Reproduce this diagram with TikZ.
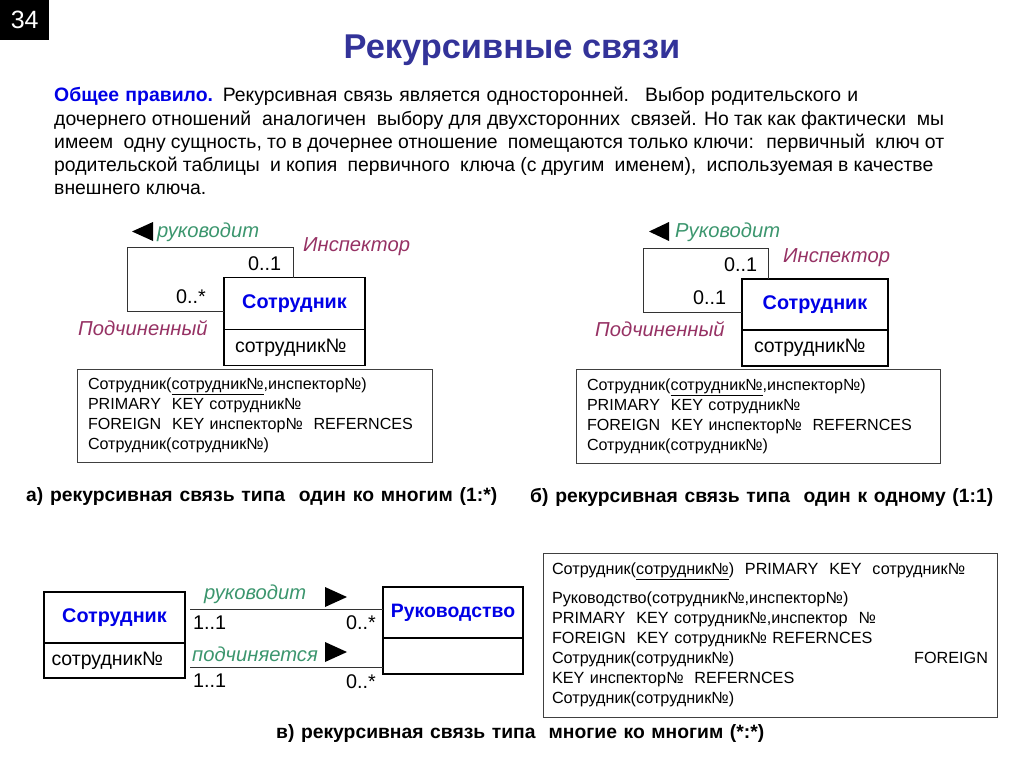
\documentclass[tikz,border=0pt]{standalone}
\usepackage{fontspec}
\setmainfont{Liberation Sans}
\definecolor{titleblue}{RGB}{51,51,153}
\definecolor{entblue}{RGB}{0,0,230}
\definecolor{relgreen}{RGB}{60,150,110}
\definecolor{rolepurple}{RGB}{150,50,100}
\newcommand{\spreadline}[2]{\makebox[#1pt][s]{#2}}
\tikzset{
  para/.style={anchor=west, inner sep=0pt, font=\fontsize{19.4}{23}\selectfont},
  capt/.style={anchor=west, inner sep=0pt, font=\bfseries\fontsize{19.3}{23}\selectfont},
  enthead/.style={draw, line width=1.6pt, inner sep=0pt, outer sep=0pt, font=\bfseries\fontsize{19.8}{22}\selectfont, text=entblue},
  entattr/.style={draw, line width=1.6pt, inner sep=0pt, outer sep=0pt, font=\fontsize{19.5}{22}\selectfont, anchor=west},
  rel/.style={inner sep=0pt, font=\itshape\fontsize{20.2}{23}\selectfont, text=relgreen},
  role/.style={inner sep=0pt, font=\itshape\fontsize{20.2}{23}\selectfont, text=rolepurple},
  mult/.style={inner sep=0pt, font=\fontsize{19.8}{22}\selectfont},
  link/.style={line width=0.9pt, draw=black!80},
  sqlbox/.style={draw=black!75, line width=1pt, inner sep=0pt, align=left, font=\fontsize{16.1}{20}\selectfont},
}
\begin{document}
\begin{tikzpicture}[x=1pt,y=-1pt]
\useasboundingbox (0,0) rectangle (1024,768);
% page number
\node[fill=black, text=white, minimum width=49pt, minimum height=40pt, inner sep=0pt, anchor=north west, font=\fontsize{25}{28}\selectfont] (num) at (0,0) {34};
% title
\node[inner sep=0pt, font=\bfseries\fontsize{34.4}{40}\selectfont, text=titleblue] (title) at (512,50) {Рекурсивные связи};
% paragraph
\node[para] (p1) at (54,96) {\spreadline{804}{{\color{entblue}\bfseries Общее правило.} Рекурсивная связь является односторонней. \ Выбор родительского и}};
\node[para] (p2) at (54,120) {\spreadline{890}{дочернего отношений \ аналогичен \ выбору для двухсторонних \ связей. Но так как фактически \ мы}};
\node[para] (p3) at (54,143) {\spreadline{890}{имеем \ одну сущность, то в дочернее отношение \ помещаются только ключи: \ первичный \ ключ от}};
\node[para] (p4) at (54,166) {\spreadline{879}{родительской таблицы \ и копия \ первичного \ ключа (с другим \ именем), \ используемая в качестве}};
\node[para] (p5) at (54,189) {внешнего ключа.};

% ---------- diagram a ----------
\node[enthead, minimum width=141pt, minimum height=52pt] (ea) at (294.5,303.5) {Сотрудник};
\node[entattr, minimum width=141pt, minimum height=36pt, text width=119pt] (eaa) at (224,347.5) {сотрудник№};
\draw[link] ([yshift=-7.5pt]ea.west) -| (127,247) -| ([xshift=-1.5pt]ea.north);
\fill (153,222) -- (153,241) -- (132,231.5) -- cycle;
\node[rel, anchor=west] (ra) at (157,232) {руководит};
\node[role, anchor=west] (ia) at (303,247) {Инспектор};
\node[mult, anchor=west] (ma1) at (248,264) {0..1};
\node[mult, anchor=west] (ma2) at (176,297) {0..*};
\node[role, anchor=west] (sa) at (78,328) {Подчиненный};
\node[sqlbox, minimum width=355pt, minimum height=93pt, text width=333pt] (qa) at (254.5,415.5) {%
Сотрудник(\underline{сотрудник№},инспектор№)\\
PRIMARY \ KEY сотрудник№\\
FOREIGN \ KEY инспектор№ \ REFERNCES\\
Сотрудник(сотрудник№)};
\node[capt] (ca) at (26,497) {\spreadline{471}{а) рекурсивная связь типа \ один ко многим (1:*)}};

% ---------- diagram b ----------
\node[enthead, minimum width=146pt, minimum height=51pt] (eb) at (815,304.5) {Сотрудник};
\node[entattr, minimum width=146pt, minimum height=36pt, text width=122pt] (eba) at (742,348) {сотрудник№};
\draw[link] ([yshift=-7.5pt]eb.west) -| (643,248) -| ([xshift=-47pt]eb.north);
\fill (669,222) -- (669,241) -- (649,231.5) -- cycle;
\node[rel, anchor=west] (rb) at (675,232) {Руководит};
\node[role, anchor=west] (ib) at (783,258) {Инспектор};
\node[mult, anchor=west] (mb1) at (724,265) {0..1};
\node[mult, anchor=west] (mb2) at (693,298) {0..1};
\node[role, anchor=west] (sb) at (595,329) {Подчиненный};
\node[sqlbox, minimum width=364pt, minimum height=94pt, text width=342pt] (qb) at (758,416) {%
Сотрудник(\underline{сотрудник№},инспектор№)\\
PRIMARY \ KEY сотрудник№\\
FOREIGN \ KEY инспектор№ \ REFERNCES\\
Сотрудник(сотрудник№)};
\node[capt] (cb) at (530,497) {\spreadline{463}{б) рекурсивная связь типа \ один к одному (1:1)}};

% ---------- diagram c ----------
\node[enthead, minimum width=141pt, minimum height=51pt] (ec) at (114.5,617.5) {Сотрудник};
\node[entattr, minimum width=141pt, minimum height=35pt, text width=126pt] (eca) at (44,660.5) {сотрудник№};
\node[enthead, minimum width=140pt, minimum height=51pt, font=\bfseries\fontsize{19.4}{22}\selectfont] (rc) at (453,612.5) {Руководство};
\node[entattr, minimum width=140pt, minimum height=36pt, text width=124pt] (rca) at (383,656) {};
\draw[link] ([xshift=5pt]ec.east |- 0,609) -- (rc.west |- 0,609);
\draw[link] ([xshift=5pt]eca.east |- 0,667) -- (rca.west |- 0,667);
\fill (325,587) -- (325,607) -- (347,597) -- cycle;
\fill (325,642) -- (325,662) -- (347,652) -- cycle;
\node[rel, anchor=west] (rc1) at (204,594) {руководит};
\node[rel, anchor=west] (rc2) at (192,654) {подчиняется};
\node[mult, anchor=west] (mc1) at (193,623) {1..1};
\node[mult, anchor=west] (mc2) at (346,623) {0..*};
\node[mult, anchor=west] (mc3) at (193,681) {1..1};
\node[mult, anchor=west] (mc4) at (346,682) {0..*};
\node[sqlbox, minimum width=454pt, minimum height=164pt, text width=436pt, font=\fontsize{16.2}{20}\selectfont] (qc) at (770,635) {%
Сотрудник(\underline{сотрудник№}) \ PRIMARY \ KEY \ сотрудник№\\[9pt]
Руководство(сотрудник№,инспектор№)\\
PRIMARY \ KEY сотрудник№,инспектор \ №\\
FOREIGN \ KEY сотрудник№ REFERNCES\\
Сотрудник(сотрудник№)\hfill FOREIGN\\
KEY инспектор№ \ REFERNCES\\
Сотрудник(сотрудник№)};
\node[capt] (cc) at (276,733) {\spreadline{488}{в) рекурсивная связь типа \ многие ко многим (*:*)}};
\end{tikzpicture}
\end{document}
